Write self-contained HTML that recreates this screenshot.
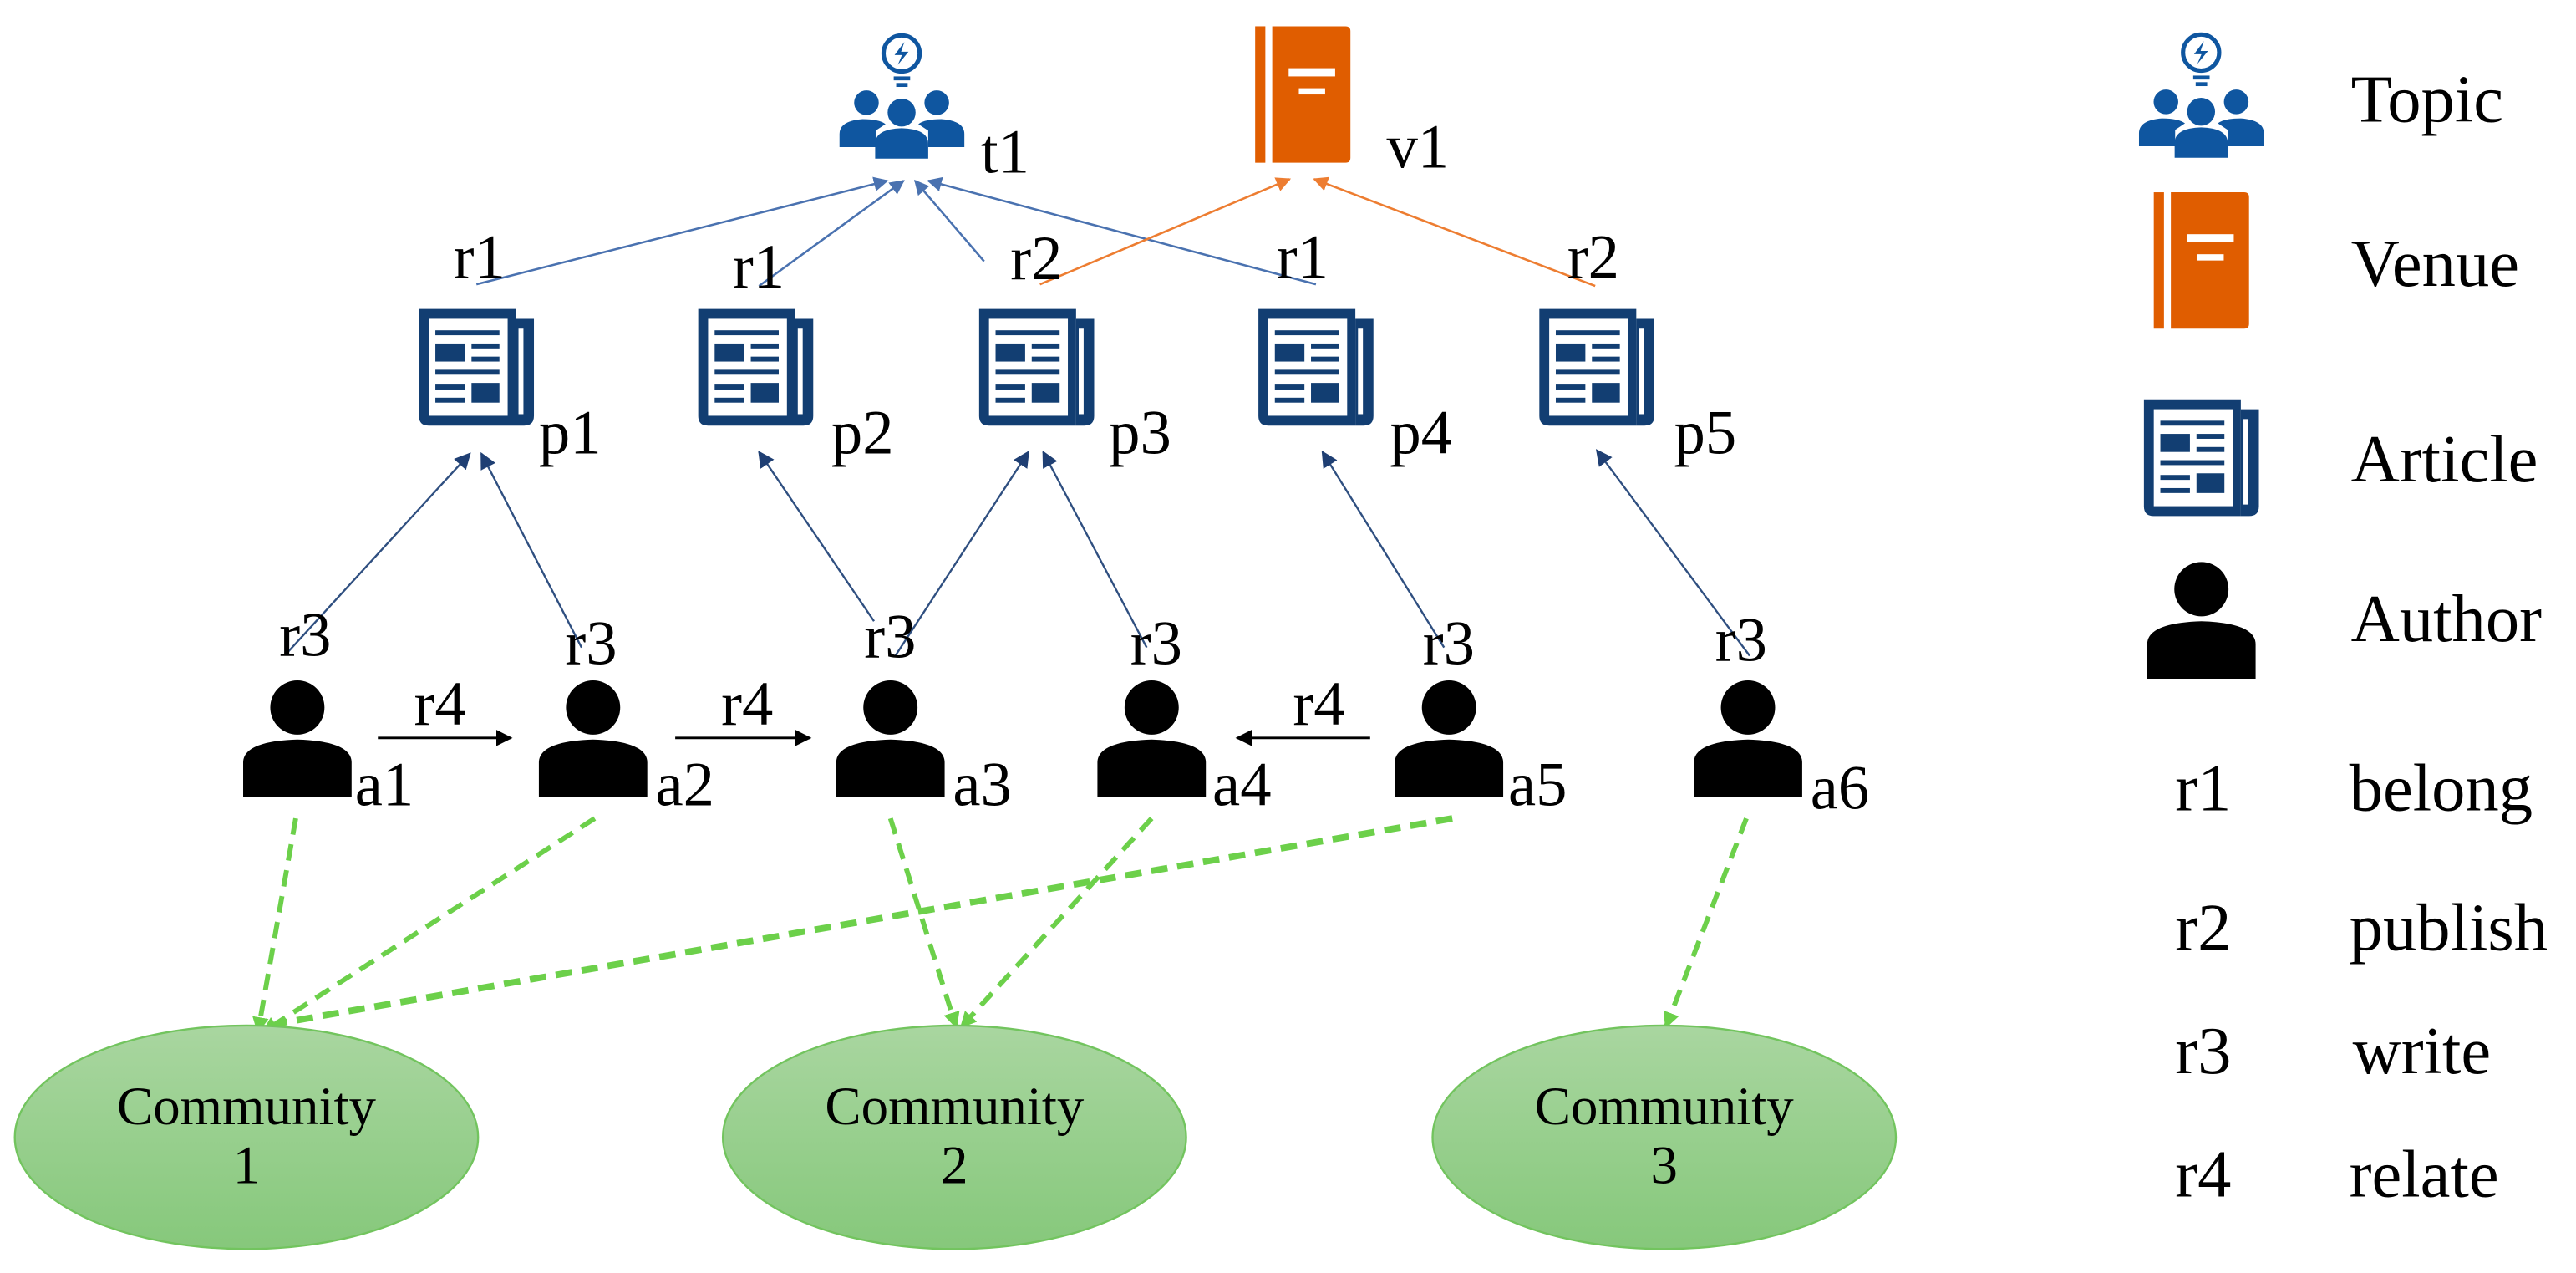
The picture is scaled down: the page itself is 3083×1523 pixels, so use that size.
<!DOCTYPE html>
<html><head><meta charset="utf-8"><style>
html,body{margin:0;padding:0;background:#fff;}
svg{display:block;}
text{font-family:"Liberation Serif",serif;fill:#000;}
</style></head><body>
<svg width="3083" height="1523" viewBox="0 0 1568 774.6" xmlns="http://www.w3.org/2000/svg">
<defs>
<linearGradient id="g" x1="0" y1="0" x2="0" y2="1">
<stop offset="0" stop-color="#a9d6a0"/><stop offset="1" stop-color="#86c87b"/>
</linearGradient>
<marker id="ab" viewBox="0 0 10 10" refX="9" refY="5" markerWidth="9" markerHeight="9" markerUnits="userSpaceOnUse" orient="auto"><path d="M0,0L10,5L0,10Z" fill="#4a72b0"/></marker>
<marker id="ao" viewBox="0 0 10 10" refX="9" refY="5" markerWidth="9" markerHeight="9" markerUnits="userSpaceOnUse" orient="auto"><path d="M0,0L10,5L0,10Z" fill="#ed7d31"/></marker>
<marker id="an" viewBox="0 0 10 10" refX="9" refY="5" markerWidth="10" markerHeight="10" markerUnits="userSpaceOnUse" orient="auto"><path d="M0,0L10,5L0,10Z" fill="#1f3f73"/></marker>
<marker id="ak" viewBox="0 0 10 10" refX="9" refY="5" markerWidth="10" markerHeight="10" markerUnits="userSpaceOnUse" orient="auto"><path d="M0,0L10,5L0,10Z" fill="#000"/></marker>
<marker id="ag" viewBox="0 0 10 10" refX="9" refY="5" markerWidth="10" markerHeight="12" markerUnits="userSpaceOnUse" orient="auto"><path d="M0,0L10,5L0,10Z" fill="#6cd04a"/></marker>
<g id="art">
<path d="M0,0H59V71H6Q0,71 0,65Z" fill="#123e72"/>
<rect x="6" y="6" width="48" height="59" fill="#fff"/>
<path d="M59,6H70V65Q70,71 64,71H59Z" fill="#123e72"/>
<rect x="60.6" y="12" width="3" height="52" fill="#fff"/>
<g fill="#123e72">
<rect x="10" y="13" width="39" height="3"/>
<rect x="10" y="21" width="18" height="11"/>
<rect x="32" y="21" width="17" height="3"/>
<rect x="32" y="29" width="17" height="3"/>
<rect x="10" y="37" width="39" height="3"/>
<rect x="32" y="45" width="17" height="12"/>
<rect x="10" y="46" width="18" height="3"/>
<rect x="10" y="54" width="18" height="3"/>
</g>
</g>
<g id="auth" fill="#000">
<circle cx="33" cy="16.5" r="16.5"/>
<path d="M0,71V50Q0,37 33,36Q66,37 66,50V71Z"/>
</g>
<g id="ven">
<rect x="0" y="0" width="6.2" height="83" fill="#e05d00"/>
<path d="M10.4,0H55Q58,0 58,3V80Q58,83 55,83H10.4Z" fill="#e05d00"/>
<rect x="20.4" y="25.5" width="28.3" height="5" fill="#fff"/>
<rect x="26.6" y="37.7" width="16" height="3.8" fill="#fff"/>
</g>
<g id="top" fill="#0f56a0">
<circle cx="37.8" cy="13" r="11" fill="none" stroke="#0f56a0" stroke-width="2.6"/>
<path d="M39.5,6L33.5,14H38L35.5,20L42,12H37.5Z"/>
<rect x="33" y="27" width="10" height="2.4"/>
<rect x="34.5" y="31" width="7" height="2.4"/>
<circle cx="16.4" cy="43" r="7.5"/>
<circle cx="59.2" cy="43" r="7.5"/>
<circle cx="37.8" cy="49" r="8.5"/>
<path d="M0,70V62Q0,54 14,53Q24,53 28,56L22,60V70Z"/>
<path d="M76,70V62Q76,54 62,53Q52,53 48,56L54,60V70Z"/>
<path d="M21.7,77V68Q21.7,59 37.8,58.5Q54,59 54,68V77Z"/>
</g>
</defs>

<!-- t1 / v1 -->
<use href="#top" x="511" y="19.5"/>
<text x="597" y="105" font-size="38">t1</text>
<use href="#ven" x="764" y="16"/>
<text x="844" y="102" font-size="38">v1</text>

<!-- connectors to t1 / v1 -->
<g stroke="#4a72b0" stroke-width="1.3" fill="none">
<line x1="290" y1="173" x2="540" y2="110" marker-end="url(#ab)"/>
<line x1="462" y1="174" x2="550" y2="110" marker-end="url(#ab)"/>
<line x1="599" y1="159" x2="557" y2="110" marker-end="url(#ab)"/>
<line x1="801" y1="173" x2="565" y2="110" marker-end="url(#ab)"/>
</g>
<g stroke="#ed7d31" stroke-width="1.3" fill="none">
<line x1="633" y1="173" x2="785" y2="109" marker-end="url(#ao)"/>
<line x1="971" y1="174" x2="800" y2="109" marker-end="url(#ao)"/>
</g>

<!-- r labels top -->
<g font-size="38">
<text x="276" y="169">r1</text>
<text x="446" y="175">r1</text>
<text x="615" y="170">r2</text>
<text x="777" y="169">r1</text>
<text x="954" y="169">r2</text>
</g>

<!-- articles -->
<use href="#art" x="255" y="188"/>
<use href="#art" x="425" y="188"/>
<use href="#art" x="596" y="188"/>
<use href="#art" x="766" y="188"/>
<use href="#art" x="937" y="188"/>
<g font-size="38">
<text x="328" y="276">p1</text>
<text x="506" y="276">p2</text>
<text x="675" y="276">p3</text>
<text x="846" y="276">p4</text>
<text x="1019" y="276">p5</text>
</g>

<!-- write arrows -->
<g stroke="#2f4f80" stroke-width="1.2" fill="none">
<line x1="175" y1="397" x2="286" y2="276" marker-end="url(#an)"/>
<line x1="354" y1="394" x2="293" y2="276" marker-end="url(#an)"/>
<line x1="532" y1="378" x2="462" y2="275" marker-end="url(#an)"/>
<line x1="545" y1="399" x2="626" y2="275" marker-end="url(#an)"/>
<line x1="698" y1="394" x2="635" y2="275" marker-end="url(#an)"/>
<line x1="879" y1="394" x2="805" y2="275" marker-end="url(#an)"/>
<line x1="1065" y1="399" x2="972" y2="274" marker-end="url(#an)"/>
</g>

<g font-size="38">
<text x="170" y="399">r3</text>
<text x="344" y="404">r3</text>
<text x="526" y="400">r3</text>
<text x="688" y="404">r3</text>
<text x="866" y="404">r3</text>
<text x="1044" y="402">r3</text>
</g>

<!-- authors -->
<use href="#auth" x="148" y="414"/>
<use href="#auth" x="328" y="414"/>
<use href="#auth" x="509" y="414"/>
<use href="#auth" x="668" y="414"/>
<use href="#auth" x="849" y="414"/>
<use href="#auth" x="1031" y="414"/>
<g font-size="38">
<text x="216" y="490">a1</text>
<text x="399" y="490">a2</text>
<text x="580" y="490">a3</text>
<text x="738" y="490">a4</text>
<text x="918" y="490">a5</text>
<text x="1102" y="492">a6</text>
</g>

<!-- r4 -->
<g stroke="#000" stroke-width="1.5">
<line x1="230" y1="449" x2="311" y2="449" marker-end="url(#ak)"/>
<line x1="411" y1="449" x2="493" y2="449" marker-end="url(#ak)"/>
<line x1="834" y1="449" x2="753" y2="449" marker-end="url(#ak)"/>
</g>
<g font-size="38">
<text x="252" y="441">r4</text>
<text x="439" y="441">r4</text>
<text x="787" y="441">r4</text>
</g>

<!-- green dashed -->
<g stroke="#6cd04a" stroke-width="3" stroke-dasharray="10 6" fill="none">
<line x1="180" y1="498" x2="157" y2="628" marker-end="url(#ag)"/>
<line x1="362" y1="498" x2="160" y2="628" marker-end="url(#ag)"/>
<line x1="884" y1="498" x2="168" y2="623" stroke-width="4"/>
<line x1="542" y1="498" x2="582" y2="625" marker-end="url(#ag)"/>
<line x1="701" y1="498" x2="585" y2="625" marker-end="url(#ag)"/>
<line x1="1063" y1="498" x2="1014" y2="625" marker-end="url(#ag)"/>
</g>

<!-- communities -->
<g stroke="#72c45e" stroke-width="1.2" fill="url(#g)">
<ellipse cx="150" cy="692" rx="141" ry="68"/>
<ellipse cx="581" cy="692" rx="141" ry="68"/>
<ellipse cx="1013" cy="692" rx="141" ry="68"/>
</g>
<g font-size="33" text-anchor="middle">
<text x="150" y="684">Community</text><text x="150" y="720">1</text>
<text x="581" y="684">Community</text><text x="581" y="720">2</text>
<text x="1013" y="684">Community</text><text x="1013" y="720">3</text>
</g>

<!-- legend -->
<use href="#top" x="1302" y="19"/>
<use href="#ven" x="1311" y="117"/>
<use href="#art" x="1305" y="243"/>
<use href="#auth" x="1307" y="342"/>
<g font-size="41">
<text x="1431" y="74">Topic</text>
<text x="1431" y="174">Venue</text>
<text x="1431" y="293">Article</text>
<text x="1431" y="390">Author</text>
<text x="1324" y="493">r1</text><text x="1430" y="493">belong</text>
<text x="1324" y="578">r2</text><text x="1430" y="578">publish</text>
<text x="1324" y="653">r3</text><text x="1432" y="653">write</text>
<text x="1324" y="728">r4</text><text x="1430" y="728">relate</text>
</g>
</svg>
</body></html>
